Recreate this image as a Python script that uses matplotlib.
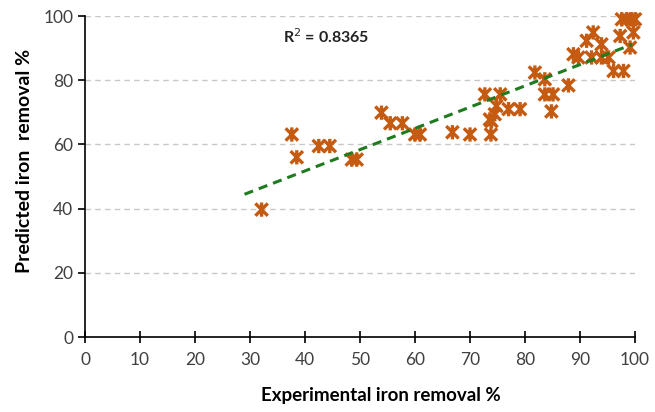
import numpy as np
import matplotlib.pyplot as plt
from matplotlib.path import Path

# experimental vs predicted iron removal (%)
experimental = [32.1, 37.6, 38.5, 42.5, 44.5, 48.5, 49.4, 53.9, 55.5, 57.7,
                60.0, 60.9, 66.8, 70.0, 73.8, 72.7, 75.5, 73.6, 73.9, 74.5,
                74.8, 77.0, 79.1, 81.8, 83.6, 83.6, 85.1, 84.8, 87.9, 88.8,
                89.7, 91.2, 92.4, 93.9, 92.1, 93.9, 95.2, 96.1, 97.9, 97.3,
                99.1, 99.7, 97.6, 98.5, 99.3, 100.0]
predicted = [39.7, 63.1, 56.0, 59.5, 59.5, 55.3, 55.3, 69.9, 66.6, 66.6,
             63.1, 63.1, 63.8, 63.1, 63.1, 75.6, 75.6, 67.8, 67.3, 69.4,
             72.0, 71.0, 71.0, 82.4, 80.3, 75.6, 75.6, 70.3, 78.4, 88.1,
             87.1, 92.3, 94.9, 91.2, 87.1, 87.1, 87.1, 82.9, 82.9, 93.8,
             90.2, 94.9, 99.0, 99.0, 99.0, 99.0]
r2_label = "R$^2$ = 0.8365"

plt.rcParams['font.family'] = ['Lato', 'DejaVu Sans']

# Excel-style star marker: X plus vertical stroke
star = Path([(-1, -1), (1, 1), (-1, 1), (1, -1), (0, -1.15), (0, 1.15)],
            [Path.MOVETO, Path.LINETO, Path.MOVETO, Path.LINETO, Path.MOVETO, Path.LINETO])

fig = plt.figure(figsize=(6.55, 4.12), dpi=100)
ax = fig.add_axes([0.1298, 0.182, 0.8397, 0.779])

ax.scatter(experimental, predicted, marker=star, s=105, facecolors='none',
           edgecolors='#C55A11', linewidths=2.4, zorder=3, clip_on=False)

# linear trend line
coef = np.polyfit(experimental, predicted, 1)
xt = np.array([29.0, 99.5])
ax.plot(xt, np.polyval(coef, xt), '--', color='#1E7B1E', lw=2.2, dashes=(3, 2), zorder=4)

ax.text(36, 91.5, r2_label, fontsize=11.5, fontweight='bold', color='#222222')

ax.set_xlim(0, 100)
ax.set_ylim(0, 100)
ax.set_xticks(np.arange(0, 101, 10))
ax.set_yticks(np.arange(0, 101, 20))
ax.yaxis.grid(True, color='#C8C8C8', ls='--', lw=1.0, dashes=(4, 3))
ax.set_axisbelow(True)
for s in ['top', 'right']:
    ax.spines[s].set_visible(False)
for s in ['left', 'bottom']:
    ax.spines[s].set_linewidth(1.2)
ax.tick_params(direction='out', length=5, width=1.2, labelsize=12.5, colors='#000000',
               labelcolor='#404040')
ax.tick_params(axis='x', direction='inout', length=8, pad=7)

ax.set_xlabel('Experimental iron removal %', fontsize=13.5, fontweight='bold')
ax.set_ylabel('Predicted iron  removal %', fontsize=14, fontweight='bold')
ax.xaxis.set_label_coords(0.538, -0.155)
ax.yaxis.set_label_coords(-0.094, 0.55)

fig.savefig('out.png', dpi=100)
